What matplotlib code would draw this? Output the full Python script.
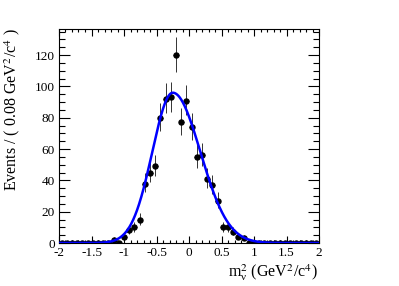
import numpy as np
import matplotlib
matplotlib.use("Agg")
import matplotlib.pyplot as plt
from matplotlib.ticker import MultipleLocator

# binned data, 50 bins of 0.08 from -2 to 2
bin_lo = -2.0
bin_width = 0.08
counts = [0, 0, 0, 0, 0, 0, 0, 0, 0, 0,
          2, 0, 4, 8, 10, 15, 38, 45, 49, 80,
          92, 93, 120, 77, 91, 74, 55, 56, 41, 37,
          27, 10, 10, 7, 4, 3, 0, 0, 0, 0,
          0, 0, 0, 0, 0, 0, 0, 0, 0, 0]

# fitted (bifurcated gaussian) curve parameters
fit_peak = 96.0
fit_mean = -0.25
fit_sigma_left = 0.315
fit_sigma_right = 0.425

x_ticks = [-2, -1.5, -1, -0.5, 0, 0.5, 1, 1.5, 2]
x_tick_labels = ["-2", "-1.5", "-1", "-0.5", "0", "0.5", "1", "1.5", "2"]
y_ticks = [0, 20, 40, 60, 80, 100, 120]
y_tick_labels = ["0", "20", "40", "60", "80", "100", "120"]

plt.rcParams['font.family'] = ['Liberation Serif', 'DejaVu Serif']
plt.rcParams['mathtext.fontset'] = 'stix'
plt.rcParams['axes.unicode_minus'] = False

n = np.array(counts, dtype=float)
centers = bin_lo + bin_width * (np.arange(len(counts)) + 0.5)
err_up = 0.5 + np.sqrt(n + 0.25)
err_lo = np.sqrt(n + 0.25) - 0.5

xc = np.linspace(-2, 2, 800)
sig = np.where(xc < fit_mean, fit_sigma_left, fit_sigma_right)
curve = fit_peak * np.exp(-0.5 * ((xc - fit_mean) / sig) ** 2)

fig = plt.figure(figsize=(3.99, 2.86), dpi=100)
ax = fig.add_axes([59 / 399, 1 - 243 / 286, 260 / 399, 214 / 286])

ax.errorbar(centers, n, yerr=[err_lo, err_up], xerr=bin_width / 2,
            fmt='o', color='black', ms=3.6, elinewidth=0.7, ecolor='#333333',
            capsize=0, zorder=2)
ax.plot(xc, curve, color='#0000ff', lw=1.8, zorder=3)

ax.set_xlim(-2, 2)
ax.set_ylim(0, 136.7)
ax.set_xticks(x_ticks)
ax.set_xticklabels(x_tick_labels)
ax.set_yticks(y_ticks)
ax.set_yticklabels(y_tick_labels)
ax.xaxis.set_minor_locator(MultipleLocator(0.1))
ax.yaxis.set_minor_locator(MultipleLocator(5))

ax.tick_params(axis='both', which='both', direction='in', top=True, right=True,
               labelsize=9.5, width=0.8, colors='black')
ax.tick_params(axis='x', which='major', length=5, pad=3)
ax.tick_params(axis='x', which='minor', length=2.5)
ax.tick_params(axis='y', which='major', length=8, pad=3)
ax.tick_params(axis='y', which='minor', length=4.5)
for s in ax.spines.values():
    s.set_linewidth(0.8)

fig.text(318 / 399, 1 - 262 / 286, r'm$^{2}_{\mathregular{ν}}$ (GeV$^{2}$/c$^{4}$)',
         ha='right', va='top', fontsize=11.5)
fig.text(12 / 399, 1 - 28 / 286, r'Events / ( 0.08 GeV$^{2}$/c$^{4}$ )',
         rotation=90, ha='center', va='top', fontsize=11.5)

fig.savefig('out.png', dpi=100)
